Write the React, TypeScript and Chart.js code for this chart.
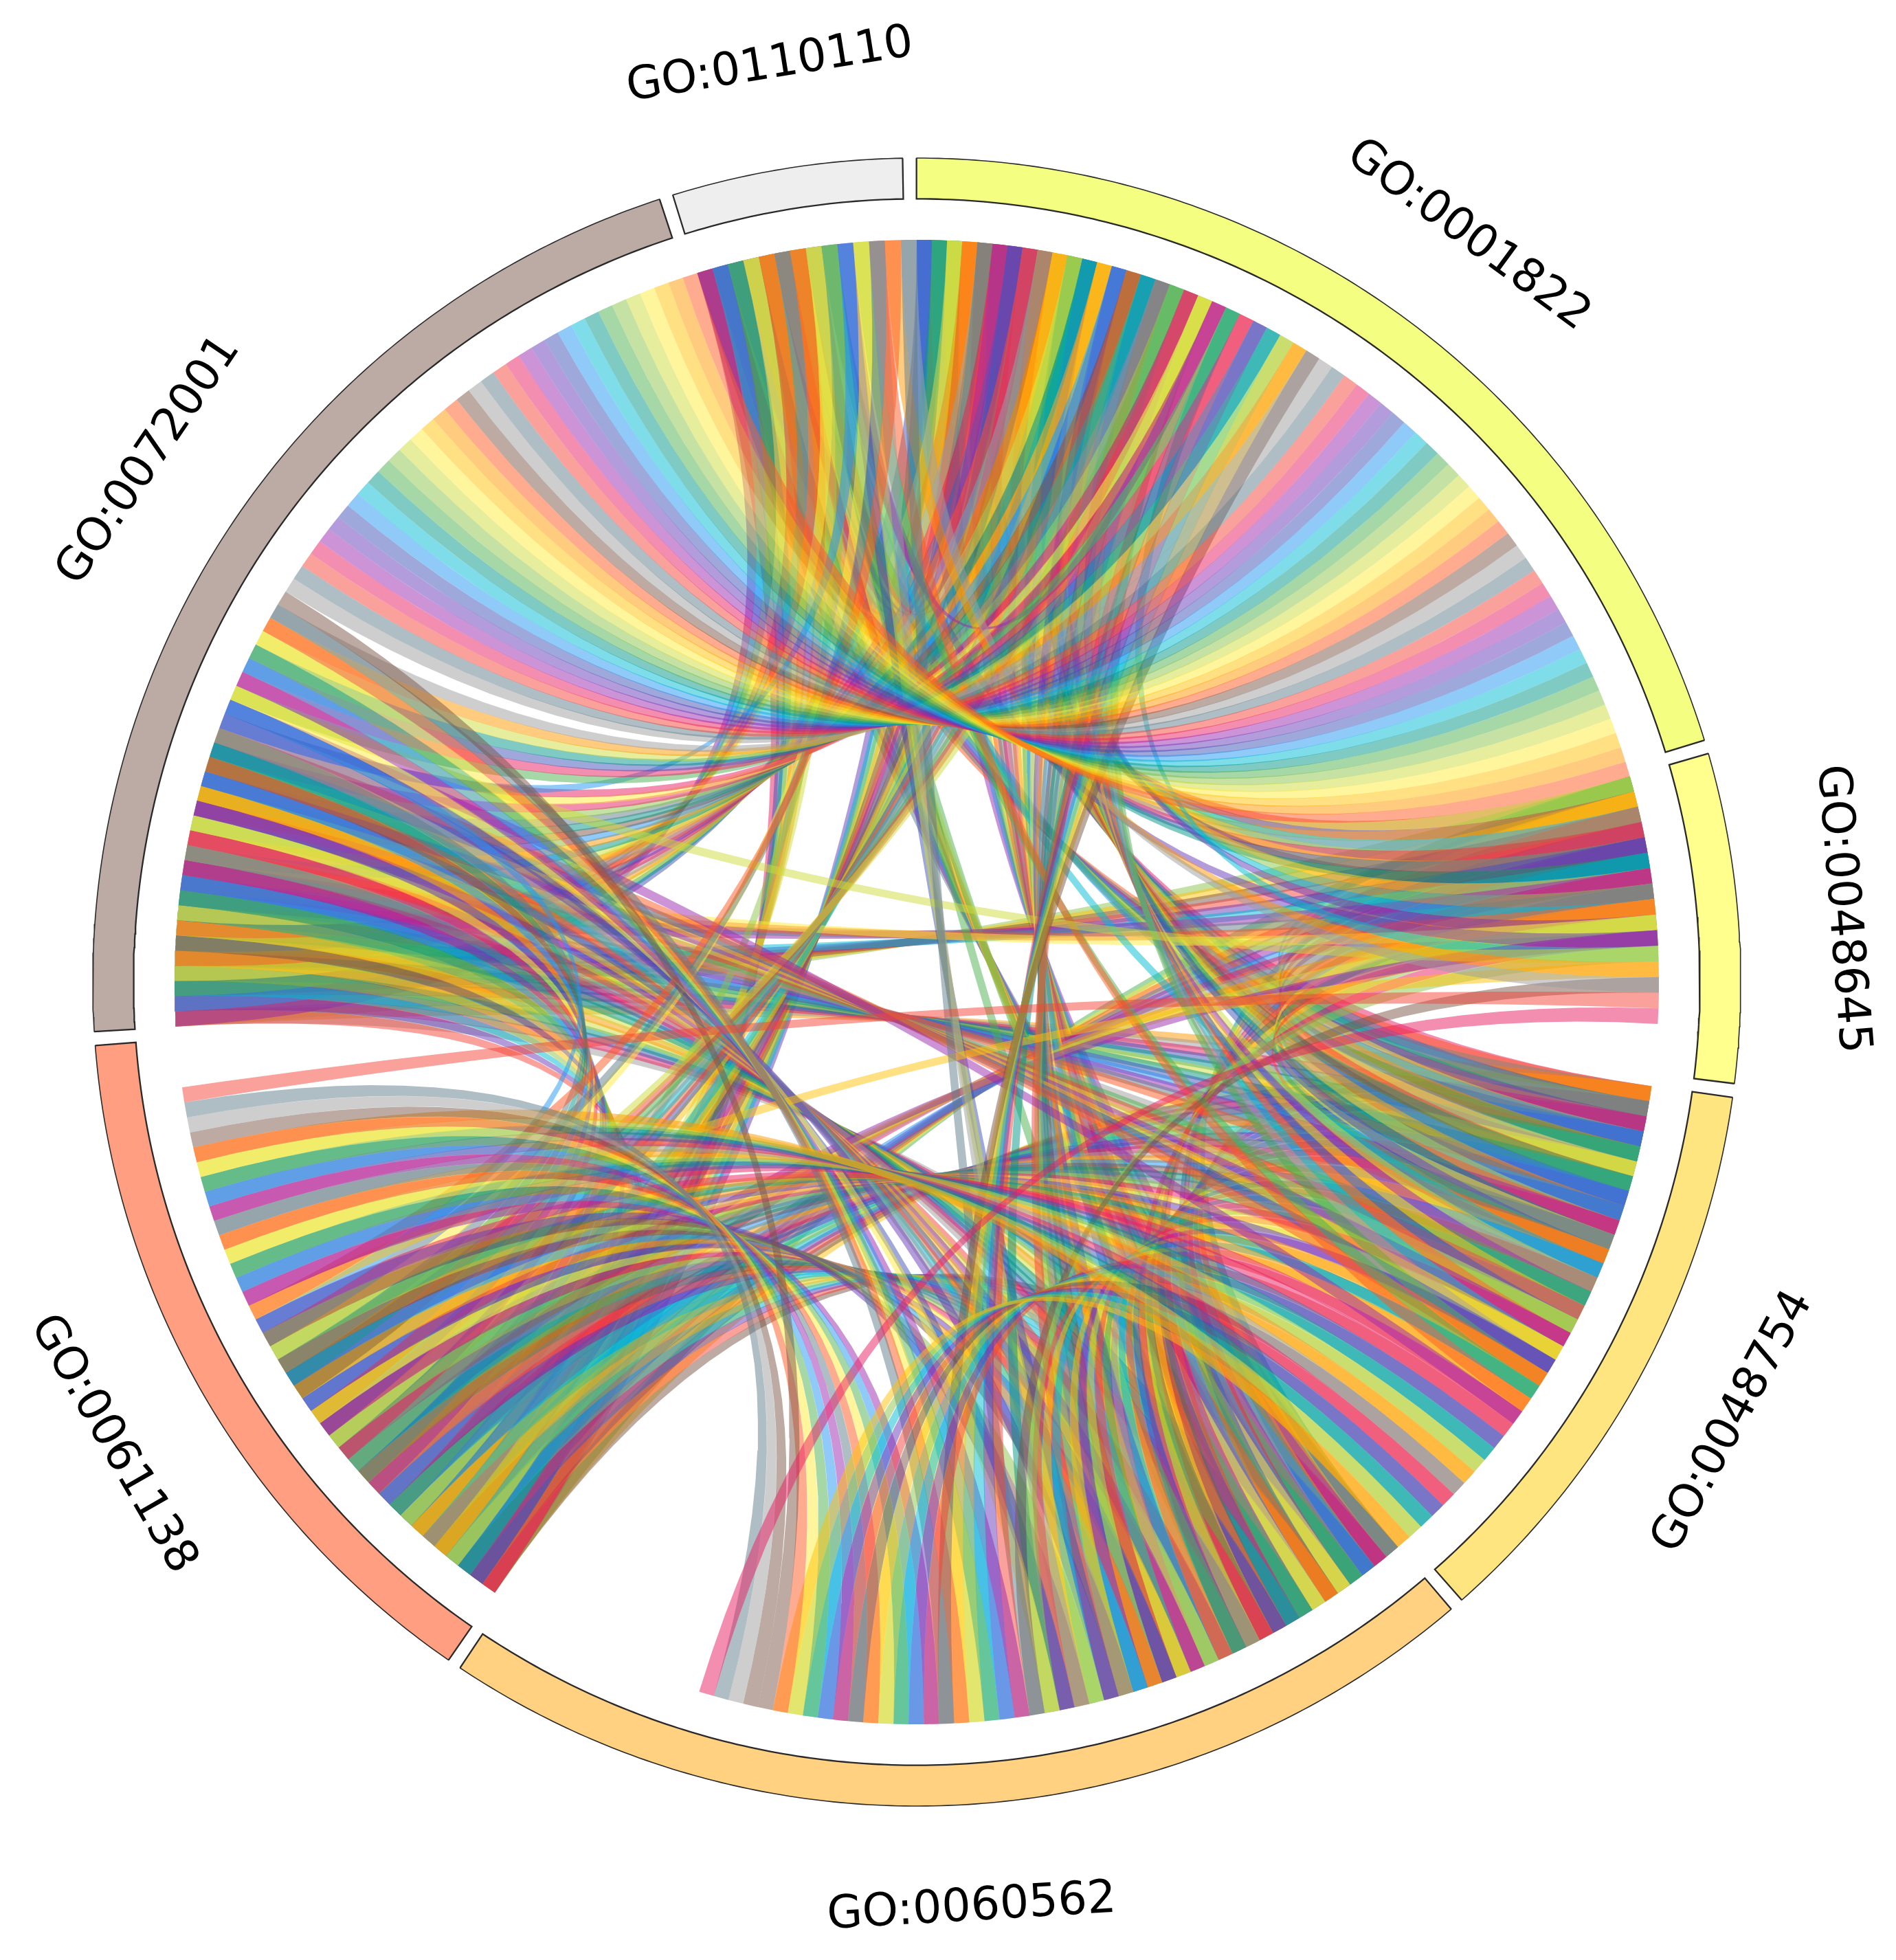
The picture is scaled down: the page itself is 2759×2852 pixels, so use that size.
import React, { useEffect, useRef } from "react";
import { Chart, registerables } from "chart.js";

Chart.register(...registerables);

const WIDTH = 2759;
const HEIGHT = 2852;

// Sectors, clockwise from the top, and how many gene slots each one holds
// (some slots hold a gene with no chord, which leaves the white gaps).
const sectorNames = ["GO:0001822", "GO:0048645", "GO:0048754", "GO:0060562", "GO:0061138", "GO:0072001", "GO:0110110"];
const sectorKeys = ["a", "b", "c", "d", "e", "f", "g"];
const sectorColors = ["#F4FF81", "#FFFF8D", "#FFE57F", "#FFD180", "#FF9E80", "#BCAAA4", "#EEEEEE"];
const sectorSlots = [63, 20, 35, 64, 44, 65, 14];

// Colours of the chords, used one after the other.
const chordPalette = [
  "#F44336", "#E91E63", "#9C27B0", "#673AB7", "#3F51B5", "#2196F3", "#00BCD4", "#009688", "#4CAF50",
  "#8BC34A", "#CDDC39", "#FFEB3B", "#FFC107", "#FF9800", "#FF5722", "#795548", "#9E9E9E", "#607D8B",
];

// Gene groups: which GO terms a gene belongs to, and how many genes share that set.
const groupTerms = [
  "abcdefg", "acdefg", "abcdef", "bcdeg", "acdef",
  "adfg", "cdeg", "cdef", "abdf",
  "beg", "bdg", "adf", "cde",
  "df", "af", "de", "be", "bd",
];
const groupCounts = [
  6, 2, 4, 1, 8,
  1, 2, 1, 1,
  1, 1, 6, 11,
  1, 35, 3, 1, 1,
];

const GAP_DEG = 1;
const PX_PER_UNIT = 1080;
const CENTER_X = 1334;
const CENTER_Y = 1429;
const RING_INNER = 1140 / PX_PER_UNIT;
const RING_OUTER = 1199 / PX_PER_UNIT;
const LABEL_RADIUS = 1350 / PX_PER_UNIT;
const CHORD_ALPHA = 0.5;

const totalSlots = sectorSlots.reduce((s, v) => s + v, 0);
const slotDeg = (360 - GAP_DEG * sectorSlots.length) / totalSlots;
const sectorStart: number[] = [];
sectorSlots.reduce((acc, n, i) => {
  sectorStart[i] = acc;
  return acc + n * slotDeg + GAP_DEG;
}, 0);
const sectorEnd = sectorSlots.map((n, i) => sectorStart[i] + n * slotDeg);
// A chord's width takes its share of the gap as well, so neighbouring sectors touch.
const chordPitch = sectorSlots.map((n) => (n * slotDeg + GAP_DEG) / n);

type P = { x: number; y: number };

const polar = (deg: number, r: number): P => {
  const t = (deg * Math.PI) / 180;
  return { x: r * Math.sin(t), y: r * Math.cos(t) };
};

const arcPoints = (from: number, to: number, r: number, n: number): P[] => {
  const out: P[] = [];
  for (let i = 0; i <= n; i++) out.push(polar(from + ((to - from) * i) / n, r));
  return out;
};

// Quadratic curve through the centre of the circle.
const curvePoints = (from: number, to: number, n: number): P[] => {
  const p = polar(from, 1);
  const q = polar(to, 1);
  const out: P[] = [];
  for (let i = 1; i < n; i++) {
    const u = i / n;
    const w = (1 - u) * (1 - u);
    const v = u * u;
    out.push({ x: w * p.x + v * q.x, y: w * p.y + v * q.y });
  }
  return out;
};

const withAlpha = (hex: string, a: number) => {
  const n = parseInt(hex.slice(1), 16);
  return `rgba(${(n >> 16) & 255},${(n >> 8) & 255},${n & 255},${a})`;
};

function buildChords() {
  const cursor = sectorKeys.map(() => 0);
  let colorIndex = 0;
  const sets: any[] = [];
  groupTerms.forEach((terms, g) => {
    for (let n = 0; n < groupCounts[g]; n++) {
      const members = terms.split("").map((k) => sectorKeys.indexOf(k));
      const slot = members.map((m) => sectorStart[m] + cursor[m]++ * chordPitch[m]);
      for (let i = 0; i < members.length; i++) {
        for (let j = i + 1; j < members.length; j++) {
          const a1 = slot[i];
          const a2 = a1 + chordPitch[members[i]];
          const b1 = slot[j];
          const b2 = b1 + chordPitch[members[j]];
          const data = [
            ...arcPoints(a1, a2, 1, 3),
            ...curvePoints(a2, b1, 36),
            ...arcPoints(b1, b2, 1, 3),
            ...curvePoints(b2, a1, 36),
          ];
          const color = chordPalette[colorIndex % chordPalette.length];
          colorIndex++;
          sets.push({
            data,
            showLine: true,
            fill: "shape",
            backgroundColor: withAlpha(color, CHORD_ALPHA),
            borderColor: "rgba(0,0,0,0)",
            borderWidth: 0,
            pointRadius: 0,
            tension: 0,
            clip: false,
          });
        }
      }
    }
  });
  return sets;
}

function buildRing() {
  const sets: any[] = [];
  sectorNames.forEach((_, i) => {
    const s = sectorStart[i];
    const e = sectorEnd[i];
    const steps = Math.ceil((e - s) * 2);
    const inner = arcPoints(s, e, RING_INNER, steps);
    const outer = arcPoints(e, s, RING_OUTER, steps);
    sets.push({
      data: [...inner, ...outer, inner[0]],
      showLine: true,
      fill: "shape",
      backgroundColor: sectorColors[i],
      borderColor: "#2a2a2a",
      borderWidth: 1.6,
      pointRadius: 0,
      tension: 0,
      clip: false,
    });
    sets.push({
      data: [outer[outer.length - 1], ...inner, outer[0]],
      showLine: true,
      fill: false,
      borderColor: "#2a2a2a",
      borderWidth: 3,
      pointRadius: 0,
      tension: 0,
      clip: false,
    });
  });
  return sets;
}

const sectorLabelsPlugin = {
  id: "sectorLabels",
  afterDatasetsDraw(chart: any) {
    const { ctx, scales } = chart;
    ctx.save();
    ctx.fillStyle = "#000000";
    ctx.font = '66.5px "DejaVu Sans"';
    ctx.textAlign = "center";
    ctx.textBaseline = "middle";
    sectorNames.forEach((name, i) => {
      const mid = (sectorStart[i] + sectorEnd[i]) / 2;
      const p = polar(mid, LABEL_RADIUS);
      const rot = mid > 90 && mid < 270 ? mid - 180 : mid;
      ctx.save();
      ctx.translate(scales.x.getPixelForValue(p.x), scales.y.getPixelForValue(p.y));
      ctx.rotate((rot * Math.PI) / 180);
      ctx.fillText(name, 0, 0);
      ctx.restore();
    });
    ctx.restore();
  },
};

export default function App() {
  const ref = useRef<HTMLCanvasElement>(null);
  useEffect(() => {
    if (!ref.current) return;
    // Chart.js paints the lowest dataset index last, so the first chord goes to the end.
    const datasets = [...buildRing(), ...buildChords().reverse()];
    const chart = new Chart(ref.current, {
      type: "scatter",
      data: { datasets },
      options: {
        animation: false,
        responsive: false,
        devicePixelRatio: 1,
        layout: { padding: 0 },
        events: [],
        plugins: { legend: { display: false }, tooltip: { enabled: false }, title: { display: false } },
        scales: {
          x: { type: "linear", display: false, min: -CENTER_X / PX_PER_UNIT, max: (WIDTH - CENTER_X) / PX_PER_UNIT },
          y: { type: "linear", display: false, min: -(HEIGHT - CENTER_Y) / PX_PER_UNIT, max: CENTER_Y / PX_PER_UNIT },
        },
      } as any,
      plugins: [sectorLabelsPlugin as any],
    } as any);
    return () => chart.destroy();
  }, []);
  return (
    <div style={{ position: "absolute", left: 0, top: 0, width: WIDTH, height: HEIGHT, background: "#ffffff" }}>
      <canvas ref={ref} width={WIDTH} height={HEIGHT} style={{ display: "block" }} />
    </div>
  );
}
